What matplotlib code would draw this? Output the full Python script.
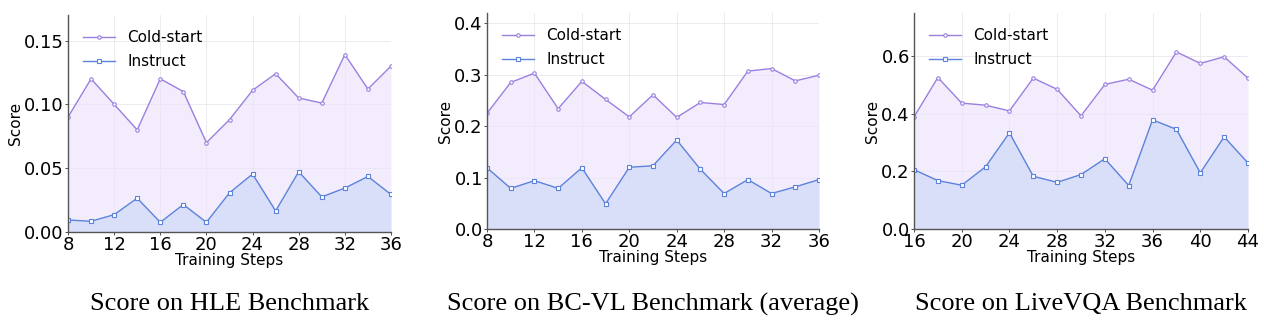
import matplotlib
matplotlib.use("Agg")
import matplotlib.pyplot as plt

# HLE benchmark
hle_steps = [8, 10, 12, 14, 16, 18, 20, 22, 24, 26, 28, 30, 32, 34, 36]
hle_cold = [0.090, 0.120, 0.100, 0.080, 0.120, 0.110, 0.070, 0.088, 0.111,
            0.124, 0.105, 0.101, 0.139, 0.112, 0.130]
hle_instruct = [0.0094, 0.0084, 0.0136, 0.0265, 0.0076, 0.0215, 0.0076, 0.0307,
                0.0454, 0.0165, 0.0472, 0.0275, 0.0344, 0.0435, 0.0294]

# BC-VL benchmark (average)
bcvl_steps = [8, 10, 12, 14, 16, 18, 20, 22, 24, 26, 28, 30, 32, 34, 36]
bcvl_cold = [0.225, 0.285, 0.303, 0.234, 0.287, 0.252, 0.218, 0.261, 0.217,
             0.246, 0.242, 0.307, 0.312, 0.288, 0.299]
bcvl_instruct = [0.119, 0.079, 0.094, 0.079, 0.119, 0.049, 0.120, 0.123, 0.173,
                 0.116, 0.069, 0.096, 0.069, 0.082, 0.096]

# LiveVQA benchmark
lvqa_steps = [16, 18, 20, 22, 24, 26, 28, 30, 32, 34, 36, 38, 40, 42, 44]
lvqa_cold = [0.389, 0.526, 0.437, 0.430, 0.410, 0.524, 0.485, 0.393, 0.502,
             0.520, 0.482, 0.615, 0.575, 0.598, 0.524]
lvqa_instruct = [0.206, 0.168, 0.152, 0.216, 0.334, 0.183, 0.162, 0.189, 0.244,
                 0.151, 0.379, 0.346, 0.195, 0.320, 0.229]

panels = [
    (hle_steps, hle_cold, hle_instruct, 0.17, [0.00, 0.05, 0.10, 0.15], "{:.2f}",
     "Score on HLE Benchmark"),
    (bcvl_steps, bcvl_cold, bcvl_instruct, 0.42, [0.0, 0.1, 0.2, 0.3, 0.4], "{:.1f}",
     "Score on BC-VL Benchmark (average)"),
    (lvqa_steps, lvqa_cold, lvqa_instruct, 0.75, [0.0, 0.2, 0.4, 0.6], "{:.1f}",
     "Score on LiveVQA Benchmark"),
]

# axes boxes in pixels: left, top, right, bottom
W, H = 1264, 323
boxes = [(68, 15, 391, 232), (487, 13, 819, 229), (914, 13, 1248, 229)]

cold_color = "#9b7fe0"
inst_color = "#5b82dc"

fig = plt.figure(figsize=(W / 100, H / 100), dpi=100)

for (steps, cold, inst, ytop, yticks, fmt, caption), (x0, y0, x1, y1) in zip(panels, boxes):
    ax = fig.add_axes([x0 / W, 1 - y1 / H, (x1 - x0) / W, (y1 - y0) / H])
    ax.fill_between(steps, 0, cold, color="#ebe3fb", alpha=0.65, linewidth=0)
    ax.fill_between(steps, 0, inst, color="#cfd9f8", alpha=0.7, linewidth=0)
    ax.plot(steps, cold, color=cold_color, linewidth=1.0, marker="o", markersize=2.5,
            markerfacecolor="white", markeredgewidth=0.8, label="Cold-start")
    ax.plot(steps, inst, color=inst_color, linewidth=1.0, marker="s", markersize=2.5,
            markerfacecolor="white", markeredgewidth=0.8, label="Instruct")

    ax.set_xlim(steps[0], steps[-1])
    ax.set_ylim(0, ytop)
    ax.set_xticks(steps[::2])
    ax.set_yticks(yticks)
    ax.set_yticklabels([fmt.format(v) for v in yticks])
    ax.tick_params(axis="both", labelsize=13, length=2, width=0.6, pad=1, colors="#333333",
                   labelcolor="black")
    ax.grid(True, color="#e8e8ee", linewidth=0.6)
    ax.set_axisbelow(True)
    for s in ["top", "right"]:
        ax.spines[s].set_visible(False)
    for s in ["left", "bottom"]:
        ax.spines[s].set_color("#555555")
        ax.spines[s].set_linewidth(1.0)

    ax.set_xlabel("Training Steps", fontsize=11, labelpad=-1)
    ax.set_ylabel("Score", fontsize=11, labelpad=1)
    ax.legend(loc="upper left", frameon=False, fontsize=11, handlelength=2.1,
              handletextpad=0.8, borderaxespad=0.6, labelspacing=0.6)

    cx = (x0 + x1) / 2 / W
    fig.text(cx, 19 / H, caption, ha="center", va="center", fontsize=19,
             family="Liberation Serif")

fig.savefig("out.png", dpi=100)
